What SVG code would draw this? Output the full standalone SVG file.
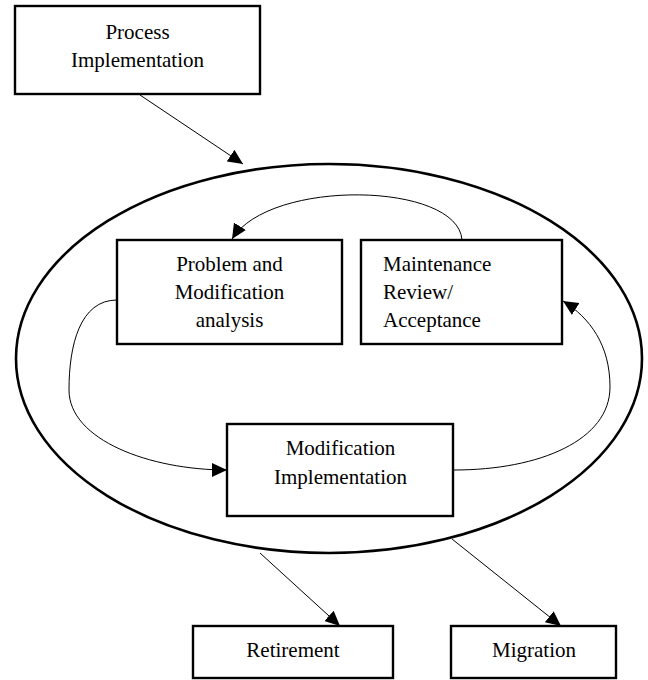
<svg xmlns="http://www.w3.org/2000/svg" width="648" height="680" viewBox="0 0 648 680">
<style>
.box{fill:#fff;stroke:#000;stroke-width:2.4}
.t{font-family:"Liberation Serif","Times New Roman","DejaVu Serif",serif;font-size:21px;fill:#000}
.c{text-anchor:middle}
.conn{fill:none;stroke:#000;stroke-width:1}
</style>
<defs>
<marker id="ah" viewBox="0 0 15 14" refX="15" refY="7" markerWidth="15" markerHeight="14" markerUnits="userSpaceOnUse" orient="auto">
<path d="M0,0 L15,7 L0,14 z" fill="#000"/>
</marker>
</defs>
<g id="maintenance-process">
<ellipse cx="329" cy="358.5" rx="313" ry="194.5" fill="none" stroke="#000" stroke-width="2.6"/>
</g>
<g id="process-implementation">
<rect class="box" x="15" y="6" width="245" height="88"/>
<text class="t c" x="137.5" y="39">Process</text>
<text class="t c" x="137.5" y="67">Implementation</text>
</g>
<g id="problem-modification-analysis">
<rect class="box" x="117" y="240" width="225" height="104"/>
<text class="t c" x="229.5" y="271">Problem and</text>
<text class="t c" x="229.5" y="299">Modification</text>
<text class="t c" x="229.5" y="327">analysis</text>
</g>
<g id="maintenance-review">
<rect class="box" x="361" y="240" width="201" height="104"/>
<text class="t" x="383" y="271">Maintenance</text>
<text class="t" x="383" y="299">Review/</text>
<text class="t" x="383" y="327">Acceptance</text>
</g>
<g id="modification-implementation">
<rect class="box" x="227" y="424" width="226" height="92"/>
<text class="t c" x="340.5" y="455">Modification</text>
<text class="t c" x="340.5" y="484">Implementation</text>
</g>
<g id="retirement">
<rect class="box" x="193" y="626" width="200" height="52"/>
<text class="t c" x="293" y="657">Retirement</text>
</g>
<g id="migration">
<rect class="box" x="451" y="626" width="165" height="52"/>
<text class="t c" x="534" y="657">Migration</text>
</g>
<g id="connectors">
<path class="conn" d="M140,95 L243,164" marker-end="url(#ah)"/>
<path class="conn" d="M462,240 C458,182 270,178 232,239" marker-end="url(#ah)"/>
<path class="conn" d="M117,300 C80,300 69,345 69,390 C69,440 150,470 227,470" marker-end="url(#ah)"/>
<path class="conn" d="M454,470 C540,470 610,440 610,387 C610,345 590,318 563,301" marker-end="url(#ah)"/>
<path class="conn" d="M260,553 L340,626" marker-end="url(#ah)"/>
<path class="conn" d="M452,539 L561,626" marker-end="url(#ah)"/>
</g>
</svg>
